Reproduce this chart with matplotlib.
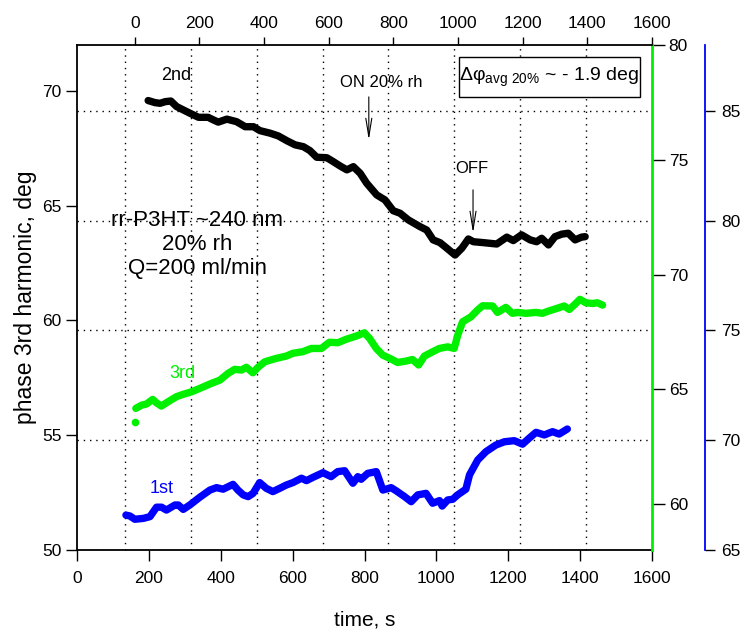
import matplotlib
matplotlib.use("Agg")
import matplotlib.pyplot as plt
from matplotlib.patches import Rectangle

plt.rcParams['font.family'] = ['Liberation Sans', 'DejaVu Sans']
plt.rcParams['mathtext.fontset'] = 'custom'
plt.rcParams['mathtext.rm'] = 'Liberation Sans'

# 2nd harmonic (black, left / bottom axes)
t2 = [198, 217, 231, 245, 261, 277, 296, 314, 338, 365, 375, 393, 417, 444, 468,
      491, 509, 537, 560, 584, 607, 630, 648, 667, 695, 713, 732, 751, 769, 788,
      806, 834, 857, 880, 899, 922, 954, 973, 991, 1010, 1029, 1052, 1071, 1089, 1103,
      1131, 1168, 1196, 1214, 1237, 1261, 1279, 1293, 1312, 1330, 1349, 1367, 1386, 1404, 1414]
p2 = [69.58, 69.49, 69.46, 69.53, 69.56, 69.32, 69.17, 69.03, 68.85, 68.85, 68.77, 68.64, 68.77, 68.66, 68.44,
      68.44, 68.27, 68.16, 68.04, 67.83, 67.65, 67.57, 67.40, 67.11, 67.09, 66.92, 66.73, 66.56, 66.70, 66.41,
      65.98, 65.47, 65.25, 64.78, 64.67, 64.38, 64.09, 63.94, 63.51, 63.39, 63.15, 62.85, 63.15, 63.55, 63.43,
      63.39, 63.33, 63.63, 63.48, 63.73, 63.51, 63.43, 63.58, 63.29, 63.65, 63.76, 63.80, 63.51, 63.63, 63.65]

# 3rd harmonic (green, top / green right axes)
t3_first = [0]
p3_first = [63.59]
t3 = [3, 21, 36, 55, 67, 82, 103, 129, 149, 175, 201, 232, 263, 288, 309,
      330, 345, 365, 381, 402, 438, 469, 489, 520, 546, 577, 602, 628, 654, 685,
      710, 726, 747, 767, 793, 813, 839, 859, 878, 896, 922, 942, 968, 988, 999,
      1014, 1040, 1060, 1076, 1107, 1122, 1148, 1168, 1184, 1210, 1241, 1261, 1282, 1307, 1328,
      1344, 1359, 1377, 1395, 1416, 1431, 1447]
p3 = [64.17, 64.31, 64.36, 64.56, 64.41, 64.27, 64.46, 64.68, 64.78, 64.89, 65.04, 65.23, 65.40, 65.69, 65.87,
      65.84, 65.96, 65.72, 65.96, 66.20, 66.35, 66.45, 66.57, 66.64, 66.78, 66.78, 67.05, 67.03, 67.18, 67.32,
      67.46, 67.22, 66.78, 66.49, 66.32, 66.17, 66.23, 66.30, 66.06, 66.45, 66.64, 66.78, 66.85, 66.78, 67.36,
      67.94, 68.16, 68.45, 68.64, 68.63, 68.35, 68.57, 68.31, 68.35, 68.31, 68.35, 68.31, 68.42, 68.53, 68.63,
      68.48, 68.67, 68.92, 68.77, 68.74, 68.77, 68.67]

# 1st harmonic (blue, blue right axis)
t1 = [3, 15, 30, 56, 76, 96, 111, 126, 152, 162, 177, 197, 227, 258, 278,
      298, 328, 343, 359, 374, 389, 409, 429, 449, 470, 490, 510, 536, 551, 571,
      601, 626, 646, 667, 692, 707, 717, 737, 763, 783, 808, 823, 849, 869, 889,
      914, 934, 955, 963, 980, 995, 1010, 1035, 1046, 1071, 1096, 1126, 1152, 1182, 1207,
      1227, 1248, 1273, 1298, 1318, 1343]
p1 = [66.59, 66.55, 66.40, 66.44, 66.52, 66.95, 66.95, 66.82, 67.05, 67.05, 66.85, 67.05, 67.40, 67.73, 67.84,
      67.77, 67.99, 67.73, 67.51, 67.43, 67.58, 68.07, 67.81, 67.66, 67.81, 67.96, 68.07, 68.27, 68.16, 68.31,
      68.52, 68.34, 68.57, 68.61, 68.04, 68.34, 68.22, 68.49, 68.57, 67.73, 67.84, 67.70, 67.43, 67.20, 67.51,
      67.58, 67.13, 67.25, 67.00, 67.28, 67.31, 67.51, 67.77, 68.42, 69.10, 69.48, 69.78, 69.93, 69.98, 69.82,
      70.09, 70.36, 70.24, 70.39, 70.28, 70.51]

x_ticks = [0, 200, 400, 600, 800, 1000, 1200, 1400, 1600]
left_ticks = [50, 55, 60, 65, 70]
green_ticks = [60, 65, 70, 75, 80]
blue_ticks = [65, 70, 75, 80, 85]
grid_x = [0, 200, 400, 600, 800, 1000, 1200, 1400]

fig = plt.figure(figsize=(7.42, 6.29), dpi=100)
rect = [77 / 742, 79 / 629, 575 / 742, 505 / 629]

green = '#00f000'
blue = '#0000ff'
line_kw = dict(lw=5.3, solid_capstyle='round', solid_joinstyle='round')
tick_fs = 12.5

# blue layer, carries the dotted grid
ax3 = fig.add_axes(rect, label='blue')
ax3.set_xlim(-145.5, 1600)
ax3.set_ylim(65, 88)
ax3.set_xticks(grid_x)
ax3.set_yticks(blue_ticks)
ax3.grid(True, color='black', linestyle=(0, (1, 3.5)), lw=1)
ax3.tick_params(axis='x', bottom=False, labelbottom=False, length=0)
ax3.yaxis.tick_right()
ax3.tick_params(axis='y', direction='out', length=7, width=1, pad=5, labelsize=tick_fs)
for s in ['left', 'top', 'bottom']:
    ax3.spines[s].set_visible(False)
ax3.spines['right'].set_position(('axes', 1.092))
ax3.spines['right'].set_color(blue)
ax3.spines['right'].set_linewidth(1.3)
ax3.plot(t1, p1, color=blue, **line_kw)

# black layer, left and bottom axes
ax = fig.add_axes(rect, label='black')
ax.patch.set_visible(False)
ax.set_xlim(0, 1600)
ax.set_ylim(50, 72)
ax.set_xticks(x_ticks)
ax.set_yticks(left_ticks)
ax.tick_params(axis='x', direction='out', length=8, width=1, pad=7, labelsize=tick_fs)
ax.tick_params(axis='y', direction='out', length=8, width=1, pad=3, labelsize=tick_fs)
ax.spines['top'].set_visible(False)
ax.spines['right'].set_visible(False)
ax.spines['left'].set_linewidth(1.3)
ax.spines['bottom'].set_linewidth(1.3)
ax.plot(t2, p2, color='black', **line_kw)
ax.set_xlabel('time, s', fontsize=15)
ax.xaxis.set_label_coords(0.501, -0.119)
ax.set_ylabel('phase 3rd harmonic, deg', fontsize=16.5)
ax.yaxis.set_label_coords(-0.07, 0.5)

# green layer, top and right axes
ax2 = fig.add_axes(rect, label='green')
ax2.patch.set_visible(False)
ax2.set_xlim(-179, 1600)
ax2.set_ylim(58, 80)
ax2.set_xticks(x_ticks)
ax2.set_yticks(green_ticks)
ax2.xaxis.tick_top()
ax2.yaxis.tick_right()
ax2.tick_params(axis='x', direction='out', length=6, width=1, pad=4, labelsize=tick_fs)
ax2.tick_params(axis='y', direction='out', length=9, width=1, pad=3, labelsize=tick_fs)
ax2.spines['left'].set_visible(False)
ax2.spines['bottom'].set_visible(False)
ax2.spines['top'].set_linewidth(1.3)
ax2.spines['right'].set_color(green)
ax2.spines['right'].set_linewidth(2)
ax2.plot(t3, p3, color=green, **line_kw)
ax2.plot(t3_first, p3_first, 'o', color=green, ms=5.5, mec='none')

# labels and notes
ax.text(275, 70.65, '2nd', fontsize=13, ha='center', va='center')
ax.text(292, 57.67, '3rd', fontsize=13, color=green, ha='center', va='center')
ax.text(236, 52.66, '1st', fontsize=13, color=blue, ha='center', va='center')

ax.text(848, 70.35, 'ON 20% rh', fontsize=12, ha='center', va='center')
ax.annotate('', xy=(812, 67.86), xytext=(812, 69.74),
            arrowprops=dict(arrowstyle='->,head_length=1.1,head_width=0.18', lw=0.8, color='black',
                            mutation_scale=12, shrinkA=0, shrinkB=0))
ax.text(1099, 66.6, 'OFF', fontsize=12, ha='center', va='center')
ax.annotate('', xy=(1102, 63.81), xytext=(1102, 65.69),
            arrowprops=dict(arrowstyle='->,head_length=1.1,head_width=0.18', lw=0.8, color='black',
                            mutation_scale=12, shrinkA=0, shrinkB=0))

ax.text(0.209, 0.605, 'rr-P3HT ~240 nm\n20% rh\nQ=200 ml/min', transform=ax.transAxes,
        fontsize=16, ha='center', va='center', linespacing=1.2)

box = Rectangle((0.6643, 0.8970), 0.3148, 0.0792, transform=ax2.transAxes,
                facecolor='white', edgecolor='black', lw=1, zorder=5)
ax2.add_patch(box)
ax2.text(0.8217, 0.9366, r'Δφ$_{\mathregular{avg\ 20\%}}$ ~ - 1.9 deg', transform=ax2.transAxes,
         fontsize=14, ha='center', va='center', zorder=6)

fig.savefig('out.png', dpi=100)
